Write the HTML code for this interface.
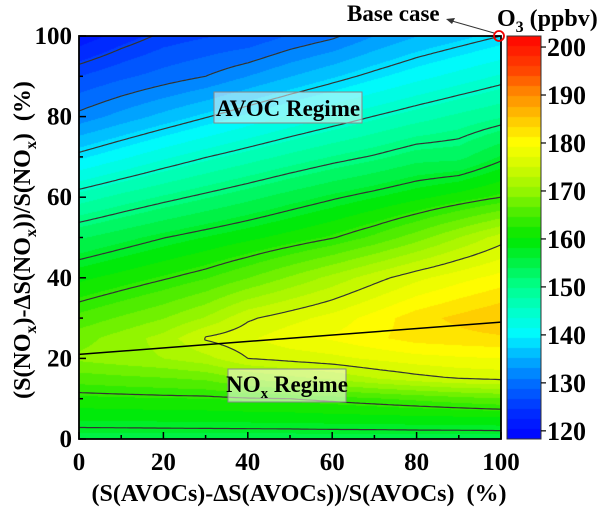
<!DOCTYPE html>
<html><head><meta charset="utf-8">
<style>
html,body{margin:0;padding:0;background:#fff;}
#wrap{position:relative;width:600px;height:509px;overflow:hidden;font-family:"Liberation Serif",serif;font-weight:bold;}
canvas{position:absolute;}
svg{position:absolute;left:0;top:0;}
.t{font-family:"Liberation Serif",serif;font-weight:bold;fill:#000;}
</style></head>
<body>
<div id="wrap">
<canvas id="field" width="422" height="403" style="left:79px;top:36px;"></canvas>
<canvas id="cbar" width="34" height="403" style="left:507px;top:36px;"></canvas>
<svg id="ov" width="600" height="509"></svg>
</div>
<script>
// ---- data ----
const xCats = [0,10,20,30,40,50,60,70,80,90,100];
const yCats = [0,5,10,15,20,25,30,40,50,60,70,80,90,100];
// O3 (ppbv) per column (x), values along yCats
const col0   = [155,158.5,161.9,165.5,169.2,167.8,165.2,159.7,153.7,146.5,138.8,131.7,126.7,121];
const col10  = [155,158.6,162.1,166.0,170.0,169.7,166.9,161.2,155.3,148.4,140.9,133.8,128.3,123.5];
const col20  = [155,158.7,162.3,166.4,170.8,171.6,168.6,162.7,156.9,150.1,143.0,135.8,129.7,125.5];
const col30  = [155,158.8,162.4,167.0,172.2,175.3,171.0,164.3,158.3,151.7,144.9,137.8,131.0,126.5];
const col40  = [155,158.9,162.8,168.8,175.0,176.7,174.6,166.5,159.7,153.3,146.6,139.8,133.0,127.0];
const col50  = [155,159.0,163.0,170.1,175.8,178.5,176.3,169.0,161.2,155.0,148.3,141.7,135.0,129.0];
const col60  = [155,159.2,163.6,171.2,176.5,179.5,177.9,171.5,162.8,156.6,149.9,143.4,136.9,130.5];
const col70  = [155,159.3,164.3,172.8,177.5,180.9,180.1,174.1,165.0,158.1,151.3,145.1,138.8,133.0];
const col80  = [155,159.5,165.0,174.1,178.4,182.2,182.5,176.5,167.7,159.7,153.0,146.7,140.6,135.0];
const col90  = [155,159.6,165.8,175.1,178.9,182.6,184.0,178.4,170.8,161.3,153.3,148.2,142.2,136.5];
const col100 = [155,159.8,166.5,175.5,179.2,183.0,185.5,180.0,173.9,163.0,156.3,149.6,143.8,138.0];
const contourLevels = [125,131,138,145,151,157,163,175];
const ridgeX = [0,100];
const ridgeY = [21,29];
const baseCase = [100,100];
const xTicks = [0,20,40,60,80,100];
const yTicks = [0,20,40,60,80,100];
const cbTicks = [120,130,140,150,160,170,180,190,200];

// ---- layout ----
const PL=79,PR=501,PT=36,PB=439;
const CBL=507,CBR=541,VMIN=118.3,VMAX=202.3;
const sx = v => PL + (v-0)/(100-0)*(PR-PL);
const sy = v => PB - (v-0)/(100-0)*(PB-PT);
const cy = v => PB - (v-VMIN)/(VMAX-VMIN)*(PB-PT);
const cols=[col0,col10,col20,col30,col40,col50,col60,col70,col80,col90,col100];

function seg(arr,v){for(let i=0;i<arr.length-1;i++){if(v<=arr[i+1])return i;}return arr.length-2;}
function field(x,y){
  const i=seg(xCats,x), j=seg(yCats,y);
  const tx=(x-xCats[i])/(xCats[i+1]-xCats[i]), ty=(y-yCats[j])/(yCats[j+1]-yCats[j]);
  const a=cols[i][j],b=cols[i+1][j],c=cols[i][j+1],d=cols[i+1][j+1];
  return (a*(1-tx)+b*tx)*(1-ty)+(c*(1-tx)+d*tx)*ty;
}
const stops=[[118,0,0,255],[124,0,45,255],[130,0,110,255],[135,0,175,255],[140,0,250,255],[145,0,255,200],[150,0,255,140],[155,0,242,70],[160,0,232,0],[165,70,236,0],[170,150,245,0],[175,210,250,0],[180,255,255,0],[185,255,200,0],[190,255,140,0],[195,255,70,0],[202.5,255,0,0]];
function cmap(v){
  const step=(VMAX-VMIN)/40; v=VMIN+(Math.floor((v-VMIN)/step)+0.5)*step;
  if(v<=stops[0][0])return stops[0].slice(1);
  for(let k=0;k<stops.length-1;k++){const s=stops[k],e=stops[k+1];
    if(v<=e[0]){const t=(v-s[0])/(e[0]-s[0]);return [s[1]+(e[1]-s[1])*t,s[2]+(e[2]-s[2])*t,s[3]+(e[3]-s[3])*t];}}
  return stops[stops.length-1].slice(1);
}
(function(){
  const cv=document.getElementById('field'),ctx=cv.getContext('2d');
  const W=cv.width,H=cv.height,img=ctx.createImageData(W,H);
  for(let py=0;py<H;py++)for(let px=0;px<W;px++){
    const x=(px+0.5)/W*100,y=100-(py+0.5)/H*100;
    const c=cmap(field(x,y)),o=(py*W+px)*4;
    img.data[o]=c[0];img.data[o+1]=c[1];img.data[o+2]=c[2];img.data[o+3]=255;}
  ctx.putImageData(img,0,0);
  const cb=document.getElementById('cbar'),cc=cb.getContext('2d');
  for(let py=0;py<cb.height;py++){const v=VMAX-(py+0.5)/cb.height*(VMAX-VMIN);const c=cmap(v);
    cc.fillStyle='rgb('+c.map(Math.round).join(',')+')';cc.fillRect(0,py,cb.width,1);}
})();

const NS='http://www.w3.org/2000/svg';
const svg=document.getElementById('ov');
function mk(tag,attrs,name,txt){const e=document.createElementNS(NS,tag);for(const k in attrs)e.setAttribute(k,attrs[k]);
  
  
  if(txt!==undefined)e.textContent=txt;svg.appendChild(e);return e;}

const N=150,M=150;
contourLevels.forEach(L=>{
  let d='';
  for(let i=0;i<N;i++)for(let j=0;j<M;j++){
    const x0=i*100/N,x1=(i+1)*100/N,y0=j*100/M,y1=(j+1)*100/M;
    const p=[[x0,y0,field(x0,y0)],[x1,y0,field(x1,y0)],[x1,y1,field(x1,y1)],[x0,y1,field(x0,y1)]];
    const pts=[];
    for(let k=0;k<4;k++){const a=p[k],b=p[(k+1)%4];
      if((a[2]<L)!==(b[2]<L)){const t=(L-a[2])/(b[2]-a[2]);pts.push([a[0]+(b[0]-a[0])*t,a[1]+(b[1]-a[1])*t]);}}
    for(let k=0;k+1<pts.length;k+=2){d+='M'+sx(pts[k][0]).toFixed(1)+' '+sy(pts[k][1]).toFixed(1)+'L'+sx(pts[k+1][0]).toFixed(1)+' '+sy(pts[k+1][1]).toFixed(1);}
  }
  mk('path',{d:d,stroke:'#333',fill:'none','stroke-width':1.2},'contour-line-'+L);
});
mk('line',{x1:sx(ridgeX[0]),y1:sy(ridgeY[0]),x2:sx(ridgeX[1]),y2:sy(ridgeY[1]),stroke:'#000','stroke-width':1.5},'ridge-line');

mk('rect',{x:PL,y:PT,width:PR-PL,height:PB-PT,fill:'none',stroke:'#000','stroke-width':1.8},'plot-frame');
mk('rect',{x:CBL,y:PT,width:CBR-CBL,height:PB-PT,fill:'none',stroke:'#333','stroke-width':1},'colorbar-frame');

for(let v=0;v<=100;v+=10){
  const maj=v%20===0,len=maj?7:4;
  mk('line',{x1:sx(v),y1:PB,x2:sx(v),y2:PB-len,stroke:'#000','stroke-width':1.5},'x-tick');
  mk('line',{x1:PL,y1:sy(v),x2:PL+len,y2:sy(v),stroke:'#000','stroke-width':1.5},'y-tick');
}
xTicks.forEach(v=>mk('text',{x:sx(v),y:PB+31,'text-anchor':'middle','font-size':25,class:'t'},'x-tick-label',String(v)));
yTicks.forEach(v=>mk('text',{x:PL-7,y:sy(v)+8,'text-anchor':'end','font-size':25,class:'t'},'y-tick-label',String(v)));
cbTicks.forEach(v=>{
  mk('line',{x1:CBR,y1:cy(v),x2:CBR+5,y2:cy(v),stroke:'#000','stroke-width':1.2},'colorbar-tick');
  mk('text',{x:CBR+6,y:cy(v)+9,'font-size':26,class:'t'},'colorbar-tick-label',String(v));
});

const xt=mk('text',{x:299,y:501,'text-anchor':'middle','font-size':24,class:'t'},'x-axis-title');
xt.innerHTML='(S(AVOCs)-ΔS(AVOCs))/S(AVOCs)&#160;&#160;(%)';
const yt=mk('text',{x:0,y:0,'text-anchor':'middle','font-size':24,class:'t',transform:'translate(30,240) rotate(-90)'},'y-axis-title');
yt.innerHTML='(S(NO<tspan font-size="16" dy="6">x</tspan><tspan dy="-6">)-ΔS(NO</tspan><tspan font-size="16" dy="6">x</tspan><tspan dy="-6">))/S(NO</tspan><tspan font-size="16" dy="6">x</tspan><tspan dy="-6">)&#160;&#160;(%)</tspan>';
const ct=mk('text',{x:497,y:26,'font-size':24,class:'t'},'colorbar-title');
ct.innerHTML='O<tspan font-size="16" dy="6">3</tspan><tspan dy="-6"> (ppbv)</tspan>';

mk('rect',{x:214,y:92,width:148,height:31,fill:'rgba(235,245,245,0.55)',stroke:'#888','stroke-width':1},'avoc-regime-box');
mk('text',{x:288,y:116,'text-anchor':'middle','font-size':23,class:'t','xml:space':'preserve'},'avoc-regime-label','AVOC  Regime');
mk('rect',{x:228,y:369,width:118,height:33,fill:'rgba(245,250,225,0.6)',stroke:'#888','stroke-width':1},'nox-regime-box');
const nl=mk('text',{x:287,y:392,'text-anchor':'middle','font-size':23,class:'t'},'nox-regime-label');
nl.innerHTML='NO<tspan font-size="15" dy="6">x</tspan><tspan dy="-6"> Regime</tspan>';

mk('circle',{cx:sx(baseCase[0])-2,cy:sy(baseCase[1]),r:5,fill:'none',stroke:'#e00','stroke-width':1.8},'base-case-marker');
mk('line',{x1:494,y1:33,x2:452,y2:21,stroke:'#333','stroke-width':1},'base-case-arrow');
mk('path',{d:'M446 19 L455 18 L452 24 Z',fill:'#333'},'base-case-arrowhead');
mk('text',{x:347,y:21,'font-size':23,class:'t'},'base-case-label','Base case');
</script>
</body></html>
